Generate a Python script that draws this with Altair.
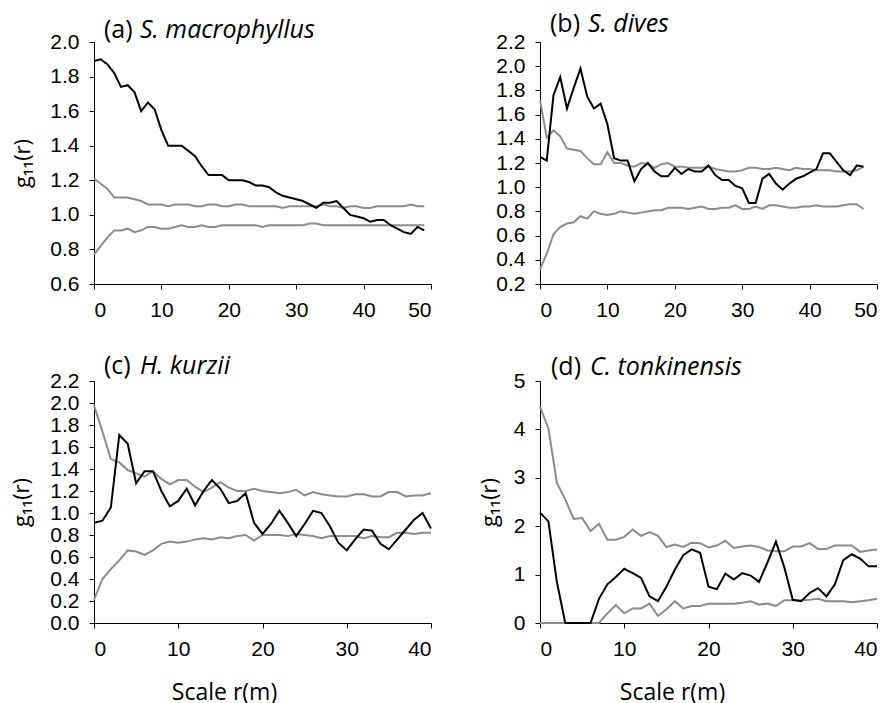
import altair as alt
import pandas as pd

# ---------------- data ----------------
r_a = list(range(0, 50))
obs_a = [1.89, 1.90, 1.87, 1.82, 1.74, 1.75, 1.71, 1.60, 1.65, 1.61,
         1.49, 1.40, 1.40, 1.40, 1.37, 1.34, 1.28, 1.23, 1.23, 1.23,
         1.20, 1.20, 1.20, 1.19, 1.17, 1.17, 1.16, 1.13, 1.11, 1.10,
         1.09, 1.08, 1.06, 1.04, 1.07, 1.07, 1.08, 1.04, 1.00, 0.99,
         0.98, 0.96, 0.97, 0.97, 0.94, 0.92, 0.90, 0.89, 0.93, 0.91]
up_a = [1.21, 1.18, 1.15, 1.10, 1.10, 1.10, 1.09, 1.08, 1.06, 1.06,
        1.06, 1.05, 1.06, 1.06, 1.06, 1.05, 1.05, 1.06, 1.06, 1.05,
        1.05, 1.06, 1.06, 1.05, 1.05, 1.05, 1.05, 1.05, 1.04, 1.05,
        1.05, 1.05, 1.05, 1.05, 1.06, 1.05, 1.05, 1.04, 1.05, 1.05,
        1.04, 1.04, 1.05, 1.05, 1.05, 1.05, 1.05, 1.06, 1.05, 1.05]
lo_a = [0.77, 0.82, 0.87, 0.91, 0.91, 0.92, 0.90, 0.91, 0.93, 0.93,
        0.92, 0.92, 0.93, 0.94, 0.93, 0.93, 0.94, 0.93, 0.93, 0.94,
        0.94, 0.94, 0.94, 0.94, 0.94, 0.93, 0.94, 0.94, 0.94, 0.94,
        0.94, 0.94, 0.95, 0.95, 0.94, 0.94, 0.94, 0.94, 0.94, 0.94,
        0.94, 0.94, 0.94, 0.94, 0.94, 0.94, 0.94, 0.94, 0.94, 0.94]

r_b = list(range(0, 49))
obs_b = [1.25, 1.22, 1.76, 1.91, 1.65, 1.82, 1.98, 1.75, 1.65, 1.69,
         1.52, 1.24, 1.22, 1.22, 1.05, 1.15, 1.20, 1.13, 1.09, 1.09,
         1.16, 1.11, 1.15, 1.13, 1.13, 1.18, 1.10, 1.06, 1.06, 1.01,
         0.99, 0.87, 0.87, 1.07, 1.11, 1.03, 0.98, 1.03, 1.07, 1.09,
         1.12, 1.15, 1.28, 1.28, 1.21, 1.14, 1.10, 1.18, 1.17]
up_b = [1.72, 1.41, 1.47, 1.42, 1.32, 1.31, 1.30, 1.24, 1.19, 1.19,
        1.29, 1.20, 1.20, 1.18, 1.17, 1.20, 1.19, 1.16, 1.19, 1.20,
        1.17, 1.17, 1.16, 1.16, 1.16, 1.17, 1.15, 1.14, 1.13, 1.13,
        1.14, 1.16, 1.16, 1.15, 1.15, 1.16, 1.15, 1.14, 1.16, 1.15,
        1.15, 1.14, 1.14, 1.14, 1.13, 1.13, 1.13, 1.14, 1.17]
lo_b = [0.32, 0.45, 0.61, 0.67, 0.70, 0.71, 0.76, 0.74, 0.80, 0.78,
        0.77, 0.78, 0.80, 0.79, 0.78, 0.79, 0.80, 0.81, 0.81, 0.83,
        0.83, 0.83, 0.82, 0.83, 0.84, 0.82, 0.82, 0.83, 0.83, 0.85,
        0.82, 0.82, 0.84, 0.82, 0.85, 0.85, 0.84, 0.83, 0.83, 0.84,
        0.84, 0.85, 0.84, 0.84, 0.84, 0.85, 0.86, 0.86, 0.82]

r_c = list(range(0, 41))
obs_c = [0.91, 0.93, 1.05, 1.71, 1.63, 1.27, 1.38, 1.38, 1.20, 1.06,
         1.11, 1.22, 1.07, 1.20, 1.30, 1.22, 1.09, 1.11, 1.18, 0.91,
         0.81, 0.90, 1.02, 0.91, 0.79, 0.90, 1.02, 1.00, 0.88, 0.73,
         0.66, 0.76, 0.85, 0.84, 0.72, 0.67, 0.76, 0.85, 0.94, 1.00,
         0.86]
up_c = [1.98, 1.74, 1.49, 1.46, 1.39, 1.36, 1.33, 1.38, 1.31, 1.26,
        1.30, 1.30, 1.24, 1.19, 1.23, 1.28, 1.23, 1.20, 1.20, 1.22,
        1.20, 1.19, 1.18, 1.19, 1.21, 1.16, 1.19, 1.17, 1.16, 1.15,
        1.15, 1.17, 1.17, 1.15, 1.15, 1.19, 1.19, 1.15, 1.16, 1.16,
        1.18]
lo_c = [0.21, 0.40, 0.49, 0.57, 0.66, 0.65, 0.62, 0.66, 0.72, 0.74,
        0.73, 0.74, 0.76, 0.77, 0.76, 0.78, 0.77, 0.79, 0.80, 0.75,
        0.80, 0.80, 0.80, 0.79, 0.81, 0.80, 0.79, 0.77, 0.79, 0.79,
        0.79, 0.79, 0.77, 0.79, 0.78, 0.78, 0.82, 0.82, 0.81, 0.82,
        0.82]

r_d = list(range(0, 41))
obs_d = [2.28, 2.10, 0.85, 0.00, 0.00, 0.00, 0.00, 0.50, 0.80, 0.95,
         1.12, 1.03, 0.93, 0.55, 0.45, 0.75, 1.10, 1.40, 1.52, 1.45,
         0.75, 0.70, 1.02, 0.90, 1.03, 0.98, 0.85, 1.25, 1.68, 1.15,
         0.48, 0.45, 0.62, 0.72, 0.55, 0.80, 1.30, 1.42, 1.33, 1.17,
         1.17]
up_d = [4.47, 4.02, 2.90, 2.55, 2.15, 2.17, 1.90, 2.05, 1.72, 1.72,
        1.78, 1.93, 1.80, 1.88, 1.80, 1.57, 1.62, 1.57, 1.66, 1.65,
        1.56, 1.60, 1.70, 1.55, 1.58, 1.60, 1.57, 1.50, 1.48, 1.48,
        1.58, 1.58, 1.65, 1.53, 1.53, 1.60, 1.60, 1.60, 1.47, 1.50,
        1.52]
lo_d = [0.00, 0.00, 0.00, 0.00, 0.00, 0.00, 0.00, 0.00, 0.20, 0.37,
        0.20, 0.30, 0.30, 0.40, 0.15, 0.28, 0.45, 0.30, 0.35, 0.35,
        0.40, 0.40, 0.40, 0.40, 0.42, 0.45, 0.38, 0.40, 0.35, 0.47,
        0.47, 0.47, 0.48, 0.50, 0.45, 0.45, 0.45, 0.43, 0.45, 0.47,
        0.50]

labels = ["(a)", "(b)", "(c)", "(d)"]
species = ["S. macrophyllus", "S. dives", "H. kurzii", "C. tonkinensis"]
x_ticks_50 = [0, 10, 20, 30, 40, 50]
x_ticks_40 = [0, 10, 20, 30, 40]
y_ticks_a = [0.6, 0.8, 1.0, 1.2, 1.4, 1.6, 1.8, 2.0]
y_ticks_b = [0.2, 0.4, 0.6, 0.8, 1.0, 1.2, 1.4, 1.6, 1.8, 2.0, 2.2]
y_ticks_c = [0.0, 0.2, 0.4, 0.6, 0.8, 1.0, 1.2, 1.4, 1.6, 1.8, 2.0, 2.2]
y_ticks_d = [0, 1, 2, 3, 4, 5]

SERIES = ["observed", "upper", "lower"]
COLORS = ["#000000", "#8c8c8c", "#8c8c8c"]

TITLE_FONT = "Open Sans"
LABEL_FONT = "Liberation Sans"
W, H = 337, 242


def frame(r, obs, up, lo):
    rows = []
    for name, vals in zip(SERIES, [obs, up, lo]):
        for x, v in zip(r, vals):
            rows.append({"r": x, "g": v, "series": name})
    return pd.DataFrame(rows)


def panel(df, xdom, xticks, ydom, yticks, yfmt, label, sp, lab_x, sp_x, t_y,
          ytitle_x, show_ytitle, show_xtitle, xtitle_x):
    if show_xtitle:
        x_axis = alt.Axis(values=xticks, format="d", title="Scale r(m)",
                          titleFont=TITLE_FONT, titleFontSize=23,
                          titleFontWeight="normal", titleColor="black",
                          titleX=xtitle_x, titleY=76,
                          titleBaseline="alphabetic", titleAlign="center")
    else:
        x_axis = alt.Axis(values=xticks, format="d", title=None)
    if show_ytitle:
        y_axis = alt.Axis(values=yticks, format=yfmt, title="g₁₁(r)",
                          titleFont=TITLE_FONT, titleFontSize=22,
                          titleFontWeight="normal", titleColor="black",
                          titleAngle=270, titleX=ytitle_x, titleY=H / 2,
                          titleAlign="center", titleBaseline="alphabetic")
    else:
        y_axis = alt.Axis(values=yticks, format=yfmt, title=None)

    base = alt.Chart(df).mark_line(strokeWidth=2).encode(
        x=alt.X("r:Q", scale=alt.Scale(domain=xdom, nice=False), axis=x_axis),
        y=alt.Y("g:Q", scale=alt.Scale(domain=ydom, nice=False, zero=False),
                axis=y_axis),
        color=alt.Color("series:N",
                        scale=alt.Scale(domain=SERIES, range=COLORS),
                        legend=None),
        order=alt.Order("r:Q"),
    )
    env = base.transform_filter("datum.series !== 'observed'")
    obsl = base.transform_filter("datum.series === 'observed'")

    t1 = alt.Chart(pd.DataFrame({"t": [label]})).mark_text(
        font=TITLE_FONT, fontSize=25, align="left", baseline="alphabetic",
        color="black").encode(text="t:N", x=alt.value(lab_x), y=alt.value(t_y))
    t2 = alt.Chart(pd.DataFrame({"t": [sp]})).mark_text(
        font=TITLE_FONT, fontSize=25, fontStyle="italic", align="left",
        baseline="alphabetic", color="black").encode(
        text="t:N", x=alt.value(sp_x), y=alt.value(t_y))
    return alt.layer(env, obsl, t1, t2).properties(width=W, height=H)


pa = panel(frame(r_a, obs_a, up_a, lo_a), [0, 50], x_ticks_50, [0.6, 2.0],
           y_ticks_a, ".1f", labels[0], species[0], 10, 46, -4,
           -65, True, False, 0)
pb = panel(frame(r_b, obs_b, up_b, lo_b), [0, 50], x_ticks_50, [0.2, 2.2],
           y_ticks_b, ".1f", labels[1], species[1], 10, 48, -10,
           0, False, False, 0)
pc = panel(frame(r_c, obs_c, up_c, lo_c), [0, 40], x_ticks_40, [0.0, 2.2],
           y_ticks_c, ".1f", labels[2], species[2], 10, 46, -7,
           -66, True, True, 130)
pd_ = panel(frame(r_d, obs_d, up_d, lo_d), [0, 40], x_ticks_40, [0, 5],
            y_ticks_d, "d", labels[3], species[3], 11, 50, -6,
            -44, True, True, 132)

chart = alt.concat(
    pa, pb, pc, pd_, columns=2, spacing={"row": 97, "column": 109},
    bounds="flush"
).properties(
    padding={"left": 10, "top": 12, "right": 5, "bottom": 60}
).configure(
    background="white"
).configure_view(
    stroke=None
).configure_axis(
    grid=False, domainColor="black", domainWidth=1, tickColor="black",
    tickSize=5, tickWidth=1, labelColor="black", labelFont=LABEL_FONT,
    labelFontSize=21, labelPadding=10
)

chart.save("out.html", embed_options={"renderer": "svg", "actions": False})
